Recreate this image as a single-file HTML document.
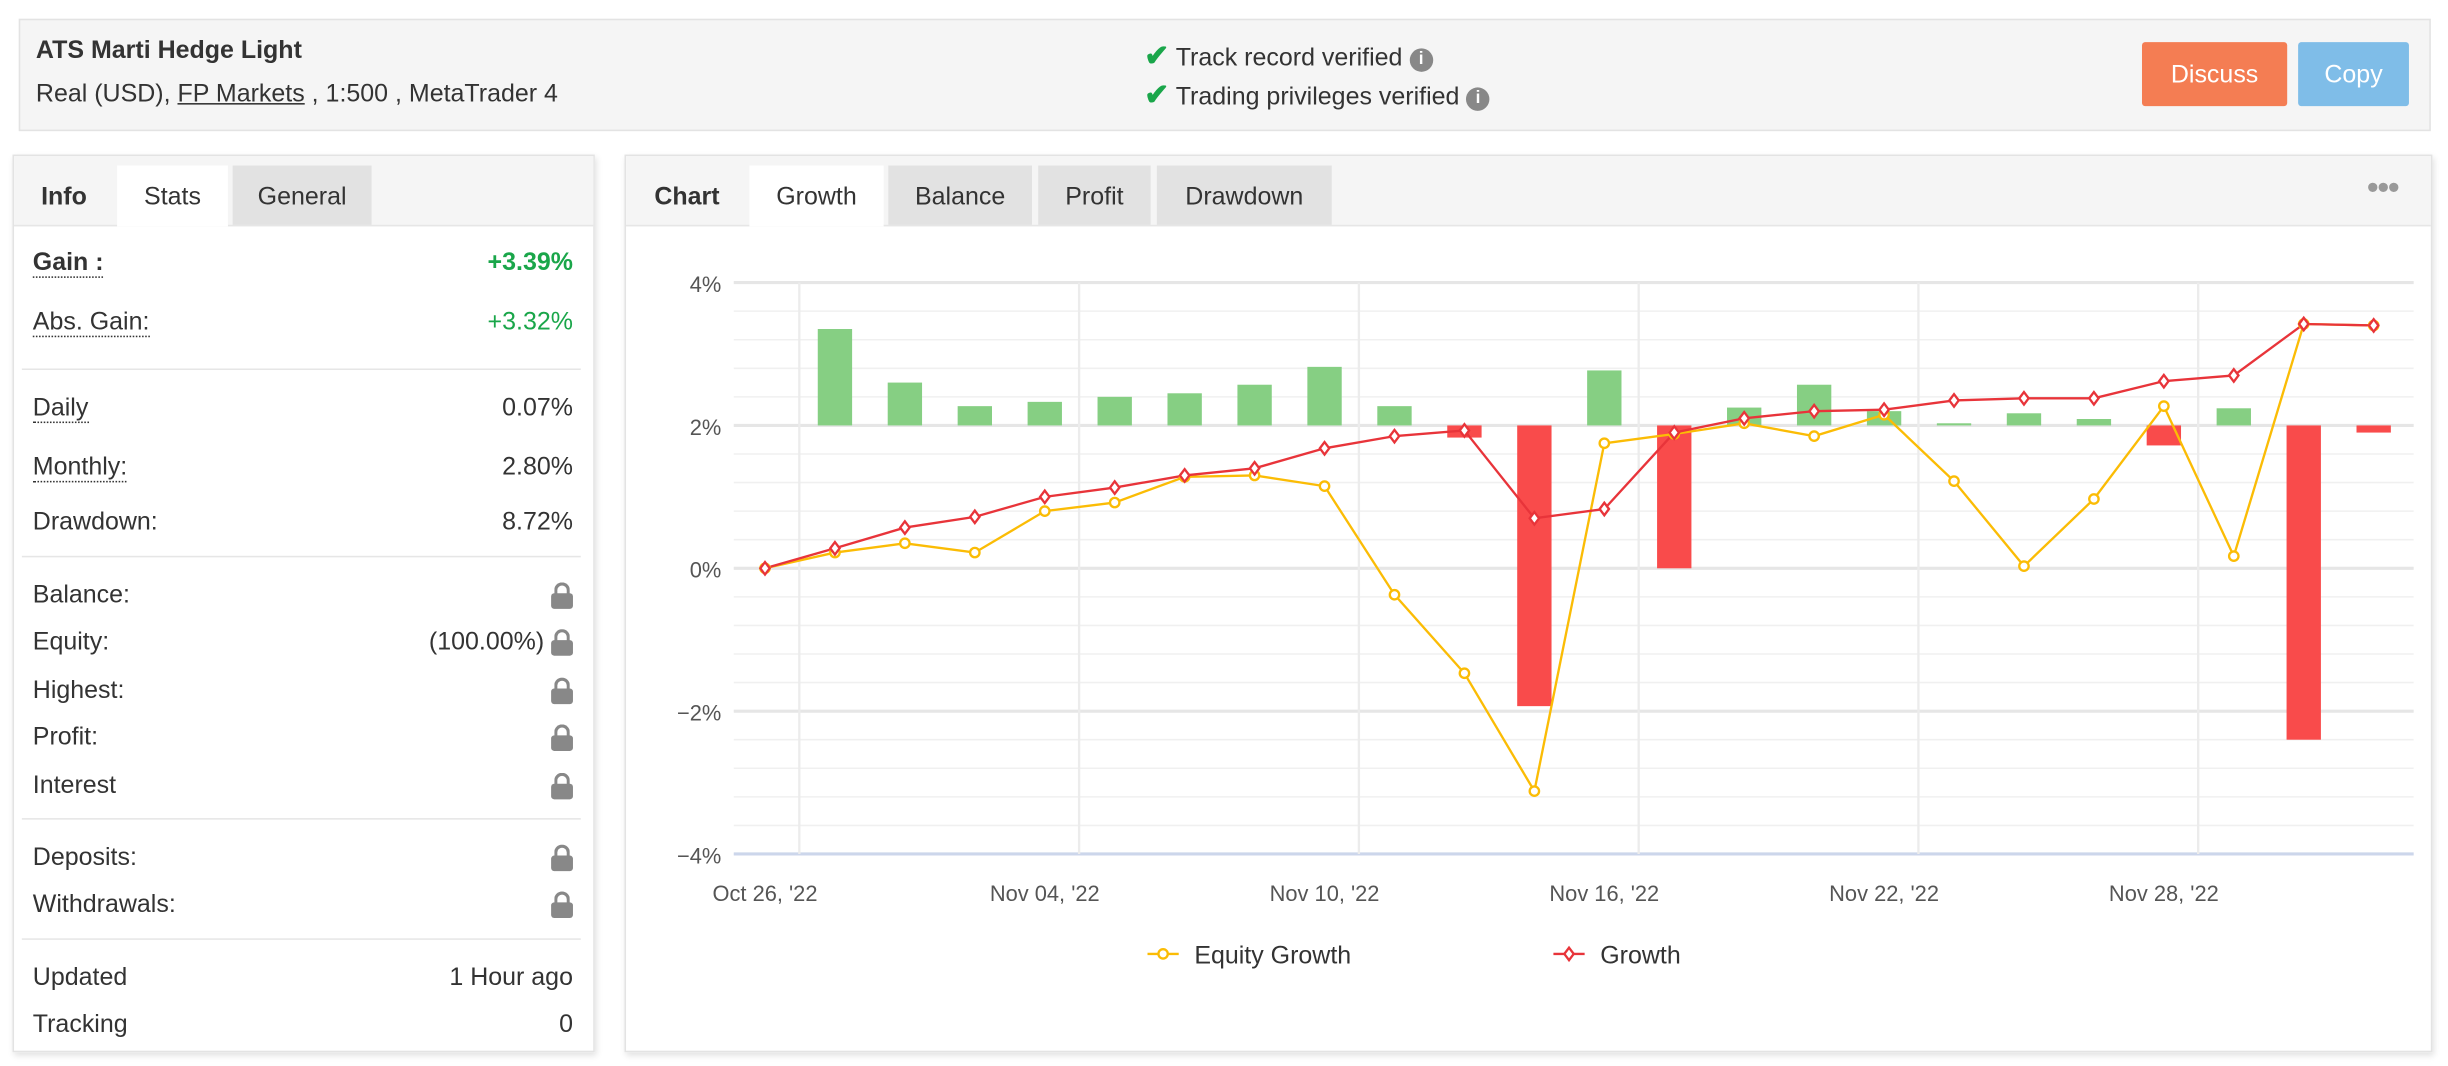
<!DOCTYPE html>
<html><head><meta charset="utf-8">
<style>
html,body{margin:0;padding:0;background:#fff;width:2448px;height:1066px;overflow:hidden}
#page{position:absolute;left:0;top:0;width:1568px;height:683px;transform:scale(1.56122);transform-origin:0 0;font-family:"Liberation Sans",Arial,sans-serif;color:#333;font-size:16px}
.abs{position:absolute;white-space:nowrap}
.box{position:absolute;box-sizing:border-box;border:1px solid #e3e3e3}
.tab{position:absolute;top:106px;height:38px;line-height:42px;text-align:center;font-size:16px;color:#333}
.row{position:absolute;left:21px;width:346px;font-size:16px;color:#333}
.row .v{position:absolute;right:0;top:0}
.dot{border-bottom:1px dotted #333}
.sep{position:absolute;left:14px;width:358px;height:1px;background:#e6e6e6}
.lock{display:inline-block;width:14px;height:10px;background:#888;border-radius:2px;position:relative;vertical-align:middle;margin-top:6px}
.lock:before{content:"";position:absolute;left:2px;top:-7px;width:6px;height:7px;border:2px solid #888;border-bottom:none;border-radius:5px 5px 0 0}
.chk{color:#1aa64a;font-weight:bold;font-size:19px}
.info{display:inline-block;width:15px;height:15px;border-radius:50%;background:#888;color:#fff;font-size:11px;text-align:center;line-height:15px;font-weight:bold;vertical-align:1px}
</style></head><body>
<div id="page">
  <div class="box" style="left:12px;top:12px;width:1545px;height:72px;background:#f5f5f5"></div>
  <div class="abs" style="left:23px;top:24px;font-weight:bold;font-size:16px">ATS Marti Hedge Light</div>
  <div class="abs" style="left:23px;top:52px;font-size:16px">Real (USD), <span style="text-decoration:underline">FP Markets</span> , 1:500 , MetaTrader 4</div>
  <div class="abs" style="left:733px;top:25px"><span class="chk">✔</span> Track record verified <span class="info">i</span></div>
  <div class="abs" style="left:733px;top:50px"><span class="chk">✔</span> Trading privileges verified <span class="info">i</span></div>
  <div class="abs" style="left:1372px;top:27px;width:93px;height:41px;background:#f47d53;color:#fff;line-height:43px;text-align:center;border-radius:2px">Discuss</div>
  <div class="abs" style="left:1472px;top:27px;width:71px;height:41px;background:#7fbde8;color:#fff;line-height:43px;text-align:center;border-radius:2px">Copy</div>

  <div class="box" style="left:8px;top:99px;width:373px;height:575px;box-shadow:1px 2px 4px rgba(0,0,0,0.12)"></div>
  <div class="abs" style="left:9px;top:100px;width:371px;height:44px;background:#f5f5f5;border-bottom:1px solid #e6e6e6"></div>
  <div class="tab" style="left:12px;width:58px;font-weight:bold">Info</div>
  <div class="tab" style="left:75px;width:71px;background:#fff;height:39px">Stats</div>
  <div class="tab" style="left:149px;width:89px;background:#e2e2e2">General</div>
  <div class="row" style="top:160px"><b class="dot">Gain :</b><span class="v" style="color:#1aa64a;font-weight:bold">+3.39%</span></div>
  <div class="row" style="top:198px"><span class="dot">Abs. Gain:</span><span class="v" style="color:#1aa64a">+3.32%</span></div>
  <div class="sep" style="top:236px"></div>
  <div class="row" style="top:253px"><span class="dot">Daily</span><span class="v">0.07%</span></div>
  <div class="row" style="top:291px"><span class="dot">Monthly:</span><span class="v">2.80%</span></div>
  <div class="row" style="top:326px">Drawdown:<span class="v">8.72%</span></div>
  <div class="sep" style="top:356px"></div>
  <div class="row" style="top:373px">Balance:<span class="v"><i class="lock"></i></span></div>
  <div class="row" style="top:403px">Equity:<span class="v">(100.00%) <i class="lock"></i></span></div>
  <div class="row" style="top:434px">Highest:<span class="v"><i class="lock"></i></span></div>
  <div class="row" style="top:464px">Profit:<span class="v"><i class="lock"></i></span></div>
  <div class="row" style="top:495px">Interest<span class="v"><i class="lock"></i></span></div>
  <div class="sep" style="top:524px"></div>
  <div class="row" style="top:541px">Deposits:<span class="v"><i class="lock"></i></span></div>
  <div class="row" style="top:571px">Withdrawals:<span class="v"><i class="lock"></i></span></div>
  <div class="sep" style="top:601px"></div>
  <div class="row" style="top:618px">Updated<span class="v">1 Hour ago</span></div>
  <div class="row" style="top:648px">Tracking<span class="v">0</span></div>

  <div class="box" style="left:400px;top:99px;width:1158px;height:575px;box-shadow:1px 2px 4px rgba(0,0,0,0.12)"></div>
  <div class="abs" style="left:401px;top:100px;width:1156px;height:44px;background:#f5f5f5;border-bottom:1px solid #e6e6e6"></div>
  <div class="tab" style="left:410px;width:60px;font-weight:bold">Chart</div>
  <div class="tab" style="left:480px;width:86px;background:#fff;height:39px">Growth</div>
  <div class="tab" style="left:569px;width:92px;background:#e2e2e2">Balance</div>
  <div class="tab" style="left:665px;width:72px;background:#e2e2e2">Profit</div>
  <div class="tab" style="left:741px;width:112px;background:#e2e2e2">Drawdown</div>
  <div class="abs" style="left:1516px;top:107px;color:#999;font-size:22px;letter-spacing:-1px">•••</div>

  <svg id="chart" style="position:absolute;left:0;top:0" width="1568" height="683"></svg>
</div>
<script>
const categories=["Oct 26, '22","Oct 27","Oct 28","Oct 31","Nov 04, '22","Nov 05","Nov 07","Nov 08","Nov 10, '22","Nov 11","Nov 14","Nov 15","Nov 16, '22","Nov 17","Nov 18","Nov 21","Nov 22, '22","Nov 23","Nov 24","Nov 25","Nov 28, '22","Nov 29","Nov 30","Dec 01"];
const tickIndexes=[0,4,8,12,16,20];
const yTicks=[4,2,0,-2,-4];
const yTickLabels=["4%","2%","0%","\u22122%","\u22124%"];
const growth=[0,0.28,0.57,0.72,1.0,1.13,1.3,1.4,1.68,1.85,1.93,0.7,0.83,1.9,2.1,2.2,2.22,2.35,2.38,2.38,2.62,2.7,3.42,3.4];
const equityGrowth=[0,0.22,0.35,0.22,0.8,0.92,1.28,1.3,1.15,-0.37,-1.47,-3.12,1.75,1.88,2.03,1.85,2.15,1.22,0.03,0.97,2.27,0.17,3.42,3.4];
const barBaseline=2;
const barValues=[null,1.35,0.6,0.27,0.33,0.4,0.45,0.57,0.82,0.27,-0.17,-3.93,0.77,-2.0,0.25,0.57,0.2,0.03,0.17,0.09,-0.28,0.24,-4.4,-0.1];

const NS="http://www.w3.org/2000/svg";
const svg=document.getElementById('chart');
const X0=490,DX=44.8,Y0=364,PY=45.75,PL=470,PR=1546;
const xs=i=>X0+i*DX;
const ys=v=>Y0-v*PY;
function mk(t,a,p){const e=document.createElementNS(NS,t);for(const k in a)e.setAttribute(k,a[k]);(p||svg).appendChild(e);return e;}
for(let v=-4;v<=4.001;v+=0.4){const l=mk('line',{x1:PL,x2:PR,y1:ys(v),y2:ys(v),stroke:'#f0f0f0','stroke-width':1});

}
yTicks.forEach((v,i)=>{const l=mk('line',{x1:PL,x2:PR,y1:ys(v),y2:ys(v),stroke:v===-4?'#ccd6eb':'#e6e6e6','stroke-width':2});


const t=mk('text',{x:462,y:ys(v)+6,'text-anchor':'end','font-size':14,fill:'#555','font-family':'Liberation Sans, sans-serif'});t.textContent=yTickLabels[i];

});
tickIndexes.forEach(i=>{const l=mk('line',{x1:xs(i)+22,x2:xs(i)+22,y1:ys(4),y2:ys(-4),stroke:'#ececec','stroke-width':1.5});


const t=mk('text',{x:xs(i),y:577,'text-anchor':'middle','font-size':14,fill:'#555','font-family':'Liberation Sans, sans-serif'});t.textContent=categories[i];

});
barValues.forEach((v,i)=>{if(v===null)return;const y1=ys(barBaseline),y2=ys(barBaseline+v);
const r=mk('rect',{x:xs(i)-11,y:Math.min(y1,y2),width:22,height:Math.max(1,Math.abs(y2-y1)),fill:v>=0?'#86cf83':'#f94b4b'});

});
function line(vals,color,name){const p=mk('polyline',{points:vals.map((v,i)=>xs(i)+','+ys(v)).join(' '),fill:'none',stroke:color,'stroke-width':1.5});

}
line(equityGrowth,'#fbbc05','equity-growth-line');
line(growth,'#e8343a','growth-line');
equityGrowth.forEach((v,i)=>{const c=mk('circle',{cx:xs(i),cy:ys(v),r:3,fill:'#fff',stroke:'#fbbc05','stroke-width':1.5});

});
growth.forEach((v,i)=>{const x=xs(i),y=ys(v);const d=mk('polygon',{points:`${x},${y-4} ${x+3},${y} ${x},${y+4} ${x-3},${y}`,fill:'#fff',stroke:'#e8343a','stroke-width':1.5});

});
const lg=mk('g',{});


mk('line',{x1:735,x2:755,y1:611,y2:611,stroke:'#fbbc05','stroke-width':1.5},lg);
mk('circle',{cx:745,cy:611,r:3,fill:'#fff',stroke:'#fbbc05','stroke-width':1.5},lg);
const t1=mk('text',{x:765,y:617,'font-size':16,fill:'#333','font-family':'Liberation Sans, sans-serif'},lg);t1.textContent='Equity Growth';


mk('line',{x1:995,x2:1015,y1:611,y2:611,stroke:'#e8343a','stroke-width':1.5},lg);
mk('polygon',{points:'1005,607 1008,611 1005,615 1002,611',fill:'#fff',stroke:'#e8343a','stroke-width':1.5},lg);
const t2=mk('text',{x:1025,y:617,'font-size':16,fill:'#333','font-family':'Liberation Sans, sans-serif'},lg);t2.textContent='Growth';


</script>
</body></html>
